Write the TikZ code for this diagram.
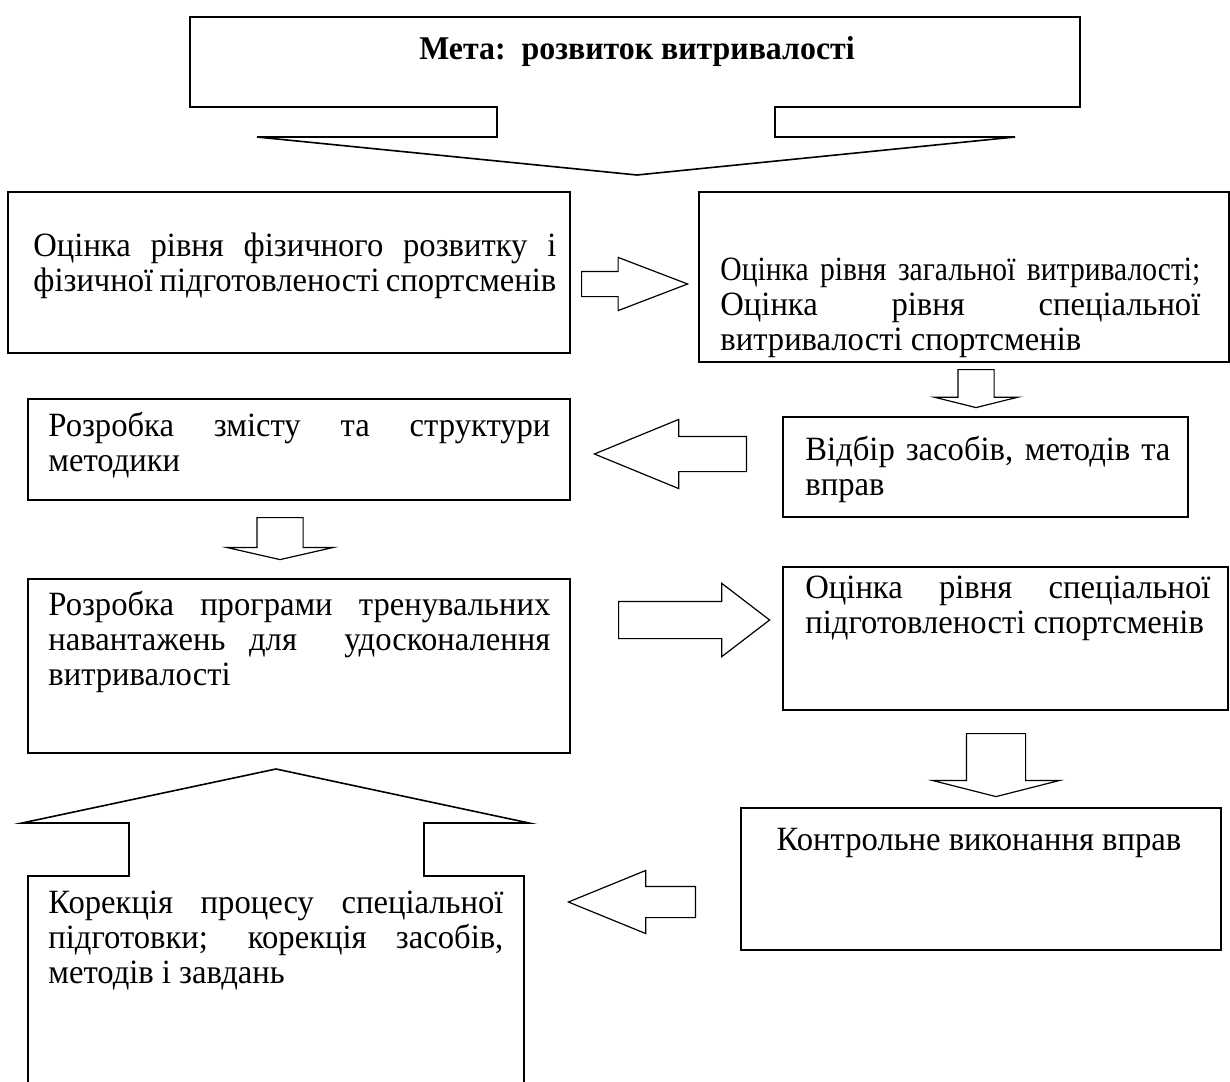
\documentclass[tikz,border=0pt]{standalone}
\usepackage{fontspec}
\setmainfont{Liberation Serif}[FakeStretch=0.96]
\usetikzlibrary{positioning,shapes.arrows}
\tikzset{
    blok/.style={
           draw, rectangle,
           line width=0.8pt,
           inner sep=0pt,
           },
}
\tikzset{
    tekst/.style={
           inner sep=0pt,
           anchor=base west,
           text width=#1,
           align=justify,
           font=\fontsize{17}{17.5}\selectfont,
           },
}
\tikzset{
    strilka/.style={
           draw, single arrow,
           line width=0.6pt,
           inner xsep=0pt,
           anchor=tail,
           single arrow head indent=0pt,
           },
}

\begin{document}
\begin{tikzpicture}[x=0.5pt,y=-0.5pt]
\useasboundingbox (0,0) rectangle (1230,1081);
% meta
\draw[line width=0.8pt] (190,17) -- (1080,17) -- (1080,107) -- (775,107) -- (775,137) -- (1015,137)
  -- (637,175) -- (257,137) -- (497,137) -- (497,107) -- (190,107) -- cycle;
\node[inner sep=0pt,anchor=base,font=\fontsize{16.6}{17.5}\selectfont\bfseries](meta) at (637,60){Мета:~~розвиток витривалості};
% boxes
\node[blok,minimum width=281pt,minimum height=80.5pt](ocinka) at (289,272.5){};
\node[blok,minimum width=265pt,minimum height=85pt](vytryv) at (964,277){};
\node[blok,minimum width=202.5pt,minimum height=50pt](vidbir) at (985.5,467){};
\node[blok,minimum width=271pt,minimum height=50.5pt](zmist) at (299,449.5){};
\node[blok,minimum width=271pt,minimum height=87pt](programa) at (299,666){};
\node[blok,minimum width=222.5pt,minimum height=71.5pt](specpidg) at (1005.5,638.5){};
\node[blok,minimum width=240pt,minimum height=71pt](kontrol) at (981,879){};
\draw[line width=0.8pt] (28,1090) -- (28,876) -- (129,876) -- (129,823) -- (22,823) -- (276,769)
  -- (529,823) -- (424,823) -- (424,876) -- (524,876) -- (524,1090);
% texts
\node[tekst=261.5pt](ocinka-t) at (33,256){Оцінка рівня фізичного розвитку і\linebreak фізичної підготовленості спортсменів};
\node[tekst=240pt](vytryv-t) at (720,280){{\addfontfeature{FakeStretch=0.87}Оцінка рівня загальної витривалості;}\linebreak Оцінка рівня спеціальної\linebreak витривалості спортсменів};
\node[tekst=182.5pt](vidbir-t) at (805,460){Відбір засобів, методів та\linebreak вправ};
\node[tekst=251pt](zmist-t) at (48,436){Розробка змісту та структури\linebreak методики};
\node[tekst=251pt](programa-t) at (48,615){Розробка програми тренувальних\linebreak навантажень для~~удосконалення\linebreak витривалості};
\node[tekst=202.5pt](specpidg-t) at (805,598){Оцінка рівня спеціальної\linebreak підготовленості спортсменів};
\node[inner sep=0pt,anchor=base,font=\fontsize{17}{17.5}\selectfont](kontrol-t) at (979,850){Контрольне виконання вправ};
\node[tekst=227.5pt](korekcija-t) at (48,913){Корекція процесу спеціальної\linebreak підготовки; корекція засобів,\linebreak методів і завдань};
% arrows
\node[strilka,inner ysep=6pt,minimum height=53pt,minimum width=26pt,single arrow head extend=7pt,single arrow tip angle=41.9](ab) at (581,284){};
\node[strilka,rotate=270,inner ysep=8.75pt,minimum height=19pt,minimum width=41pt,single arrow head extend=11.75pt,single arrow tip angle=152](bc) at (976,369){};
\node[strilka,rotate=180,inner ysep=8.5pt,minimum height=76pt,minimum width=34pt,single arrow head extend=8.5pt,single arrow tip angle=44.6](cd) at (747,454){};
\node[strilka,rotate=270,inner ysep=11.25pt,minimum height=21pt,minimum width=52.5pt,single arrow head extend=15pt,single arrow tip angle=154.3](de) at (280,517){};
\node[strilka,inner ysep=9pt,minimum height=75.5pt,minimum width=36pt,single arrow head extend=9pt,single arrow tip angle=74.9](ef) at (618,620){};
\node[strilka,rotate=270,inner ysep=14.5pt,minimum height=31.5pt,minimum width=63pt,single arrow head extend=17pt,single arrow tip angle=151.5](fg) at (996,733){};
\node[strilka,rotate=180,inner ysep=7.5pt,minimum height=63.5pt,minimum width=31pt,single arrow head extend=8pt,single arrow tip angle=44.4](gh) at (696,902){};
\end{tikzpicture}
\end{document}
